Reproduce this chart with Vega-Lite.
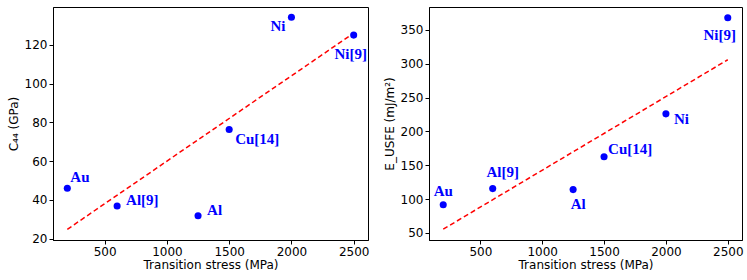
{
  "$schema": "https://vega.github.io/schema/vega-lite/v6.json",
  "padding": {"left": 6, "top": 6, "right": 5, "bottom": 3},
  "spacing": 12,
  "datasets": {
    "pts": [
      {"name": "Au", "stress": 200, "c44": 46.0, "eusfe": 91.5},
      {"name": "Al[9]", "stress": 600, "c44": 36.8, "eusfe": 115.5},
      {"name": "Al", "stress": 1250, "c44": 31.8, "eusfe": 114},
      {"name": "Cu[14]", "stress": 1500, "c44": 76.3, "eusfe": 162.5},
      {"name": "Ni", "stress": 2000, "c44": 134.2, "eusfe": 226},
      {"name": "Ni[9]", "stress": 2500, "c44": 125.0, "eusfe": 368}
    ],
    "fit": [
      {"stress": 200, "c44": 24.8, "eusfe": 55.5},
      {"stress": 2500, "c44": 126.0, "eusfe": 306}
    ]
  },
  "config": {
    "view": {"stroke": "black", "strokeWidth": 1},
    "axis": {"grid": false, "domainColor": "black", "tickColor": "black", "labelColor": "black", "titleColor": "black", "labelFont": "DejaVu Sans", "titleFont": "DejaVu Sans", "labelFontSize": 12, "titleFontSize": 12, "titleFontWeight": "normal", "tickSize": 4, "labelPadding": 2, "format": "d"},
    "text": {"font": "Liberation Serif", "fontWeight": "bold", "fontSize": 15, "color": "blue", "baseline": "middle"}
  },
  "hconcat": [
    {
      "width": 315,
      "height": 233,
      "encoding": {
        "x": {"field": "stress", "type": "quantitative", "scale": {"domain": [85, 2615], "nice": false, "zero": false}, "axis": {"values": [500, 1000, 1500, 2000, 2500], "title": "Transition stress (MPa)", "titlePadding": 2}},
        "y": {"field": "c44", "type": "quantitative", "scale": {"domain": [19.3, 139.5], "nice": false, "zero": false}, "axis": {"values": [20, 40, 60, 80, 100, 120], "title": "C₄₄ (GPa)", "titlePadding": 4}}
      },
      "layer": [
        {"data": {"name": "fit"}, "mark": {"type": "line", "color": "red", "strokeDash": [5, 3], "strokeWidth": 1.5}, "encoding": {}},
        {"data": {"name": "pts"}, "mark": {"type": "circle", "color": "blue", "opacity": 1, "size": 50}},
        {"data": {"name": "pts"}, "transform": [{"filter": "datum.name == 'Au'"}], "mark": {"type": "text", "align": "left", "dx": 3, "dy": -11}, "encoding": {"text": {"field": "name"}}},
        {"data": {"name": "pts"}, "transform": [{"filter": "datum.name == 'Al[9]' || datum.name == 'Al'"}], "mark": {"type": "text", "align": "left", "dx": 9, "dy": -6}, "encoding": {"text": {"field": "name"}}},
        {"data": {"name": "pts"}, "transform": [{"filter": "datum.name == 'Cu[14]'"}], "mark": {"type": "text", "align": "left", "dx": 6, "dy": 9}, "encoding": {"text": {"field": "name"}}},
        {"data": {"name": "pts"}, "transform": [{"filter": "datum.name == 'Ni'"}], "mark": {"type": "text", "align": "right", "dx": -6, "dy": 9}, "encoding": {"text": {"field": "name"}}},
        {"data": {"name": "pts"}, "transform": [{"filter": "datum.name == 'Ni[9]'"}], "mark": {"type": "text", "align": "center", "dx": -3, "dy": 19}, "encoding": {"text": {"field": "name"}}}
      ]
    },
    {
      "width": 313,
      "height": 233,
      "encoding": {
        "x": {"field": "stress", "type": "quantitative", "scale": {"domain": [85, 2615], "nice": false, "zero": false}, "axis": {"values": [500, 1000, 1500, 2000, 2500], "title": "Transition stress (MPa)", "titlePadding": 2}},
        "y": {"field": "eusfe", "type": "quantitative", "scale": {"domain": [39.5, 384], "nice": false, "zero": false}, "axis": {"values": [50, 100, 150, 200, 250, 300, 350], "title": "E_USFE (mJ/m²)", "titlePadding": 4}}
      },
      "layer": [
        {"data": {"name": "fit"}, "mark": {"type": "line", "color": "red", "strokeDash": [5, 3], "strokeWidth": 1.5}, "encoding": {}},
        {"data": {"name": "pts"}, "mark": {"type": "circle", "color": "blue", "opacity": 1, "size": 50}},
        {"data": {"name": "pts"}, "transform": [{"filter": "datum.name == 'Au'"}], "mark": {"type": "text", "align": "center", "dx": 0, "dy": -14}, "encoding": {"text": {"field": "name"}}},
        {"data": {"name": "pts"}, "transform": [{"filter": "datum.name == 'Al[9]'"}], "mark": {"type": "text", "align": "center", "dx": 10, "dy": -17}, "encoding": {"text": {"field": "name"}}},
        {"data": {"name": "pts"}, "transform": [{"filter": "datum.name == 'Al'"}], "mark": {"type": "text", "align": "center", "dx": 5, "dy": 14}, "encoding": {"text": {"field": "name"}}},
        {"data": {"name": "pts"}, "transform": [{"filter": "datum.name == 'Cu[14]'"}], "mark": {"type": "text", "align": "left", "dx": 4, "dy": -8}, "encoding": {"text": {"field": "name"}}},
        {"data": {"name": "pts"}, "transform": [{"filter": "datum.name == 'Ni'"}], "mark": {"type": "text", "align": "left", "dx": 8, "dy": 5}, "encoding": {"text": {"field": "name"}}},
        {"data": {"name": "pts"}, "transform": [{"filter": "datum.name == 'Ni[9]'"}], "mark": {"type": "text", "align": "center", "dx": -8, "dy": 17}, "encoding": {"text": {"field": "name"}}}
      ]
    }
  ]
}
